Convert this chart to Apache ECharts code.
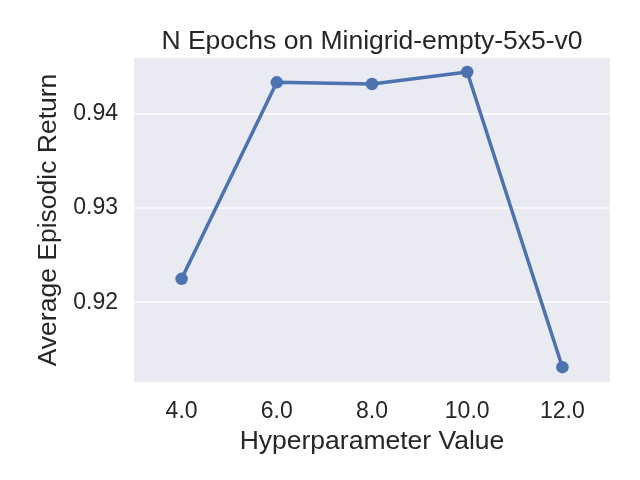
<!DOCTYPE html>
<html>
<head>
<meta charset="utf-8">
<script src="https://cdn.jsdelivr.net/npm/echarts@6/dist/echarts.min.js"></script>
<style>html,body{margin:0;padding:0;background:#fff;}#c{width:640px;height:480px;}</style>
</head>
<body>
<div id="c"></div>
<script>
const titleText = 'N Epochs on Minigrid-empty-5x5-v0';
const xName = 'Hyperparameter Value';
const yName = 'Average Episodic Return';
const categories = ['4.0', '6.0', '8.0', '10.0', '12.0'];
const values = [0.92248, 0.94337, 0.94319, 0.94447, 0.91309];
const yMin = 0.91141;
const yMax = 0.94606;
const yStep = 0.01;

const font = 'Liberation Sans, Arial, sans-serif';
const textColor = '#262626';
const chart = echarts.init(document.getElementById('c'), null, {renderer: 'canvas'});
chart.setOption({
  animation: false,
  backgroundColor: '#ffffff',
  title: {
    text: titleText,
    left: 372,
    top: 28,
    padding: 0,
    textAlign: 'center',
    textStyle: {fontFamily: font, fontSize: 26.5, fontWeight: 'normal', color: textColor}
  },
  grid: {
    left: 134, right: 30, top: 57, bottom: 97,
    show: true, backgroundColor: '#eaeaf2', borderWidth: 0
  },
  xAxis: {
    type: 'category',
    data: categories,
    boundaryGap: true,
    name: xName,
    nameLocation: 'middle',
    nameGap: 37,
    nameTextStyle: {fontFamily: font, fontSize: 26.5, color: textColor},
    axisLine: {show: false},
    axisTick: {show: false},
    splitLine: {show: false},
    axisLabel: {fontFamily: font, fontSize: 23, color: textColor, margin: 17}
  },
  yAxis: {
    type: 'value',
    min: yMin,
    max: yMax,
    minInterval: yStep,
    maxInterval: yStep,
    splitNumber: 3,
    name: yName,
    nameLocation: 'middle',
    nameRotate: 90,
    nameGap: 64,
    nameTextStyle: {fontFamily: font, fontSize: 26.5, color: textColor},
    axisLine: {show: false},
    axisTick: {show: false},
    splitLine: {show: true, lineStyle: {color: '#ffffff', width: 1.5}},
    axisLabel: {
      fontFamily: font, fontSize: 23, color: textColor, margin: 16,
      showMinLabel: false, showMaxLabel: false,
      formatter: v => v.toFixed(2)
    }
  },
  series: [{
    type: 'line',
    data: values,
    symbol: 'circle',
    symbolSize: 12.5,
    lineStyle: {color: '#4c72b0', width: 3.5},
    itemStyle: {color: '#4c72b0'}
  }]
});
</script>
</body>
</html>
